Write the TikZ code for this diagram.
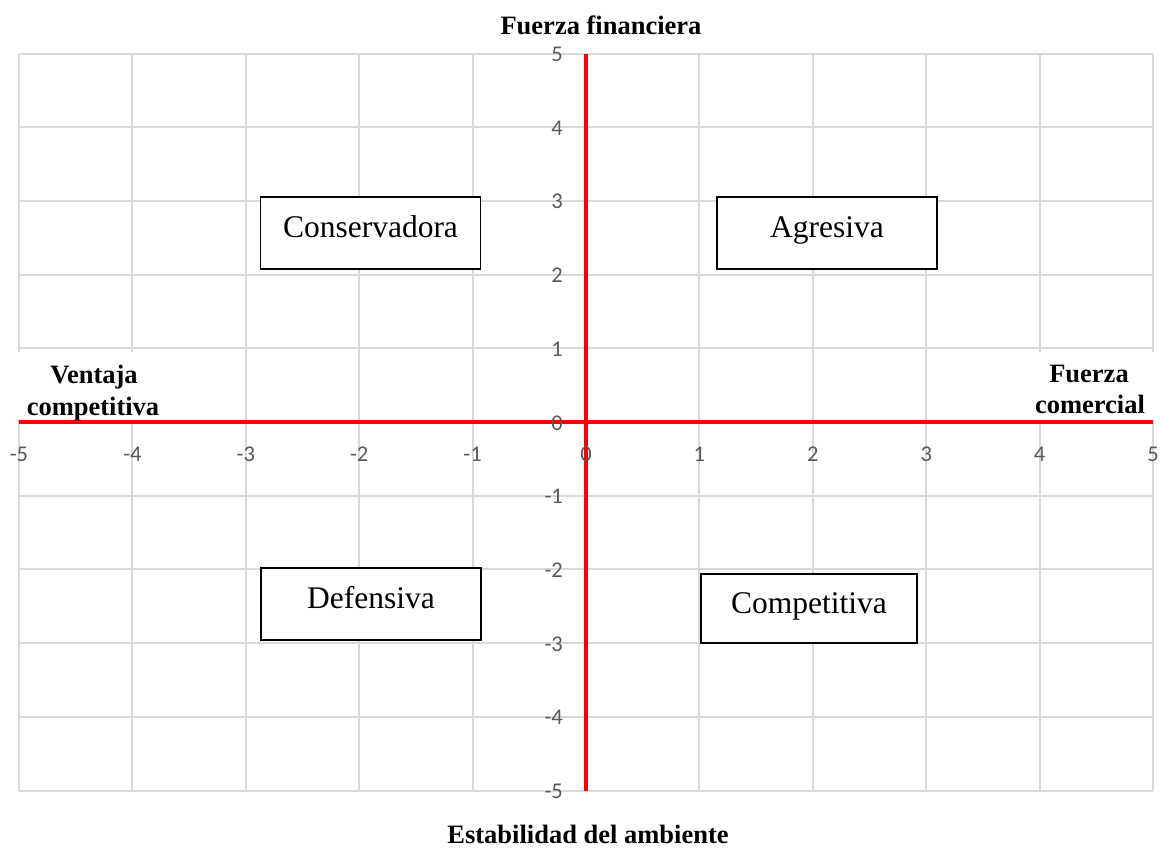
\documentclass[tikz,border=0pt]{standalone}
\usepackage{fontspec}
\setmainfont{Liberation Serif}
\newfontfamily\tickfont{Carlito}
\definecolor{gridgray}{HTML}{D9D9D9}
\definecolor{tickgray}{HTML}{595959}
\definecolor{axisred}{HTML}{FF0000}
\begin{document}
\begin{tikzpicture}[x=1pt,y=-1pt,
  gridline/.style={draw=gridgray,line width=2pt},
  axisline/.style={draw=axisred,line width=4.5pt},
  tick/.style={font=\tickfont\fontsize{22.5}{24}\selectfont,text=tickgray,inner sep=0pt},
  quadbox/.style={draw=black,fill=white,line width=1.4pt,inner sep=0pt,
    font=\fontsize{31.5}{36}\selectfont,text height=22pt,text depth=13pt},
  axtitle/.style={font=\bfseries\fontsize{26.5}{32}\selectfont,inner sep=0pt,anchor=base},
  whitebg/.style={fill=white,draw=none,inner sep=0pt}
]
\useasboundingbox (0,0) rectangle (1163,849);
\fill[white] (0,0) rectangle (1163,849);
% grid
\foreach \i in {-5,...,5}{
  \draw[gridline] ({586+113.4*\i},53.5) -- ({586+113.4*\i},790.5);
}
\foreach \j in {-5,...,5}{
  \draw[gridline] (19,{422-73.7*\j}) -- (1153,{422-73.7*\j});
}
% side label backgrounds
\node[whitebg,minimum width=158pt,minimum height=68pt] (lbg) at (92,386) {};
\node[whitebg,minimum width=132pt,minimum height=68pt] (rbg) at (1094,386) {};
% axes
\coordinate (xl) at (19,422);
\coordinate (xr) at (1153,422);
\coordinate (yt) at (586,53.5);
\coordinate (yb) at (586,790.5);
\draw[axisline] (xl) -- (xr);
\draw[axisline] (yt) -- (yb);
% tick labels
\foreach \i in {-5,...,5}{
  \node[tick,anchor=base] (xt\i) at ({586+113.4*\i},461) {\i};
}
\foreach \j in {-5,...,5}{
  \node[tick,anchor=base east] (yt\j) at (563,{430-73.7*\j}) {\j};
}
% quadrant boxes
\node[quadbox,minimum width=220pt,minimum height=72pt] (cons) at (370.5,233) {Conservadora};
\node[quadbox,minimum width=220pt,minimum height=72pt] (agre) at (827,233) {Agresiva};
\node[quadbox,minimum width=220pt,minimum height=72pt] (defe) at (371,604) {Defensiva};
\node[quadbox,minimum width=216pt,minimum height=69pt] (comp) at (809,608.5) {Competitiva};
% axis titles
\node[axtitle] (tf) at (601,34) {Fuerza financiera};
\node[axtitle] (te) at (588,843) {Estabilidad del ambiente};
\node[axtitle] (tv1) at (94,383) {Ventaja};
\node[axtitle] (tv2) at (93,415) {competitiva};
\node[axtitle] (tc1) at (1089,382) {Fuerza};
\node[axtitle] (tc2) at (1090,413) {comercial};
\end{tikzpicture}
\end{document}
